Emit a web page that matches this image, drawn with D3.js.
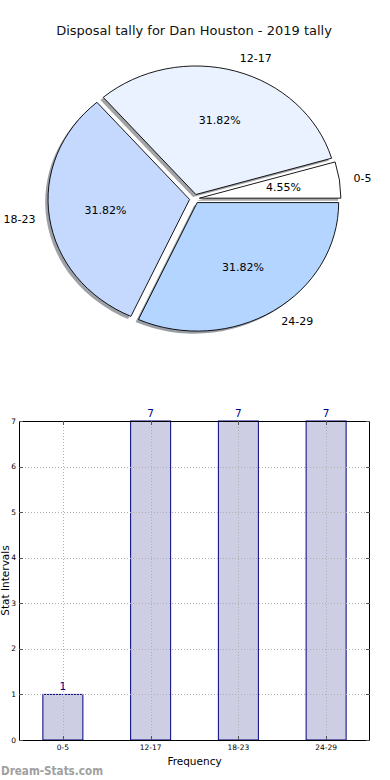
<!DOCTYPE html>
<html>
<head>
<meta charset="utf-8">
<script src="https://cdn.jsdelivr.net/npm/d3@7"></script>
<style>
  html, body { margin: 0; padding: 0; background: #fff; }
  svg { display: block; font-family: "DejaVu Sans", sans-serif; }
</style>
</head>
<body>
<svg id="chart" width="390" height="780"></svg>
<script>
// ---- Data ----
const title = "Disposal tally for Dan Houston - 2019 tally";
const categories = ["0-5", "12-17", "18-23", "24-29"];
const values = [1, 7, 7, 7];
const pieColors = ["#ffffff", "#eaf1ff", "#c5d9ff", "#b4d5ff"];
const yTicks = [0, 1, 2, 3, 4, 5, 6, 7];
const xLabel = "Frequency";
const yLabel = "Stat Intervals";
const watermark = "Dream-Stats.com";

(function () {
const svg = d3.select("#chart");

// ---- Title ----
svg.append("text")
  .attr("x", 194).attr("y", 35)
  .attr("text-anchor", "middle")
  .attr("font-size", 13)
  .attr("fill", "#111")
  .text(title);

// ---- Pie (elliptical, matplotlib-style, counterclockwise from east) ----
const cx = 194.5, cy = 198.8, Rx = 141.5, Ry = 128.5;
const explode = 0.035;
const total = d3.sum(values);

const pie = d3.pie().sort(null).value(d => d)
  .startAngle(Math.PI / 2).endAngle(Math.PI / 2 - 2 * Math.PI);
const arcs = pie(values);
const arc = d3.arc().innerRadius(0).outerRadius(1);

const pieG = svg.append("g").attr("transform", `translate(${cx},${cy})`);

function offset(d, k) {
  const m = (d.startAngle + d.endAngle) / 2;
  return [k * Math.sin(m), -k * Math.cos(m)];
}

// shadows
arcs.forEach((d, i) => {
  const [ox, oy] = offset(d, explode);
  const c = d3.rgb(pieColors[i]);
  pieG.append("path")
    .attr("d", arc(d))
    .attr("transform", `translate(${(ox - 0.02) * Rx},${(oy + 0.02) * Ry}) scale(${Rx},${Ry})`)
    .attr("fill", d3.rgb(c.r * 0.3, c.g * 0.3, c.b * 0.3))
    .attr("fill-opacity", 0.5)
    .attr("stroke", "none");
});
// wedges
arcs.forEach((d, i) => {
  const [ox, oy] = offset(d, explode);
  pieG.append("path")
    .attr("d", arc(d))
    .attr("transform", `translate(${ox * Rx},${oy * Ry}) scale(${Rx},${Ry})`)
    .attr("fill", pieColors[i])
    .attr("stroke", "#000")
    .attr("stroke-width", 0.9)
    .attr("vector-effect", "non-scaling-stroke");
});
// labels
arcs.forEach((d, i) => {
  const [px, py] = offset(d, explode + 0.6);
  pieG.append("text")
    .attr("x", px * Rx).attr("y", py * Ry)
    .attr("text-anchor", "middle")
    .attr("dominant-baseline", "central")
    .attr("font-size", 11)
    .attr("fill", "#000")
    .text((values[i] / total * 100).toFixed(2) + "%");
  const [lx, ly] = offset(d, explode + 1.1);
  pieG.append("text")
    .attr("x", lx * Rx).attr("y", ly * Ry)
    .attr("text-anchor", lx >= 0 ? "start" : "end")
    .attr("dominant-baseline", "central")
    .attr("font-size", 11)
    .attr("fill", "#000")
    .text(categories[i]);
});

// ---- Bar chart ----
const pl = 19, pr = 370, pt = 421, pb = 740;
const x = d3.scalePoint().domain(categories).range([pl, pr]).padding(0.5);
const y = d3.scaleLinear().domain([0, 7]).range([pb, pt]);
const barW = x.step() * 0.456;

const barG = svg.append("g");

// bars
barG.selectAll("rect.bar").data(values).enter().append("rect")
  .attr("class", "bar")
  .attr("x", (d, i) => x(categories[i]) - barW / 2)
  .attr("y", d => y(d))
  .attr("width", barW)
  .attr("height", d => y(0) - y(d))
  .attr("fill", "#cdcde4")
  .attr("stroke", "#000080")
  .attr("stroke-width", 1);

// grid
const gridG = barG.append("g")
  .attr("stroke", "#b0b0b0").attr("stroke-width", 1).attr("stroke-dasharray", "1,2");
yTicks.forEach(t => {
  gridG.append("line").attr("x1", pl).attr("x2", pr)
    .attr("y1", Math.round(y(t)) + 0.5).attr("y2", Math.round(y(t)) + 0.5);
});
categories.forEach(c => {
  gridG.append("line").attr("y1", pt).attr("y2", pb)
    .attr("x1", Math.round(x(c)) + 0.5).attr("x2", Math.round(x(c)) + 0.5);
});

// frame
barG.append("rect")
  .attr("x", pl + 0.5).attr("y", pt + 0.5)
  .attr("width", pr - pl - 1).attr("height", pb - pt)
  .attr("fill", "none").attr("stroke", "#000").attr("stroke-width", 1);

// ticks (inward)
const tickG = barG.append("g").attr("stroke", "#555").attr("stroke-width", 1);
yTicks.forEach(t => {
  const yy = Math.round(y(t)) + 0.5;
  tickG.append("line").attr("x1", pl).attr("x2", pl + 4).attr("y1", yy).attr("y2", yy);
  tickG.append("line").attr("x1", pr - 4).attr("x2", pr).attr("y1", yy).attr("y2", yy);
});
categories.forEach(c => {
  const xx = Math.round(x(c)) + 0.5;
  tickG.append("line").attr("y1", pb - 4).attr("y2", pb).attr("x1", xx).attr("x2", xx);
  tickG.append("line").attr("y1", pt).attr("y2", pt + 4).attr("x1", xx).attr("x2", xx);
});

// tick labels
barG.selectAll("text.ytick").data(yTicks).enter().append("text")
  .attr("class", "ytick")
  .attr("x", pl - 3).attr("y", d => y(d))
  .attr("text-anchor", "end").attr("dominant-baseline", "central")
  .attr("font-size", 7.5).attr("fill", "#000")
  .text(d => d);
barG.selectAll("text.xtick").data(categories).enter().append("text")
  .attr("class", "xtick")
  .attr("x", d => x(d)).attr("y", pb + 10)
  .attr("text-anchor", "middle")
  .attr("font-size", 7.5).attr("fill", "#000")
  .text(d => d);

// value labels
barG.selectAll("text.val").data(values).enter().append("text")
  .attr("class", "val")
  .attr("x", (d, i) => x(categories[i])).attr("y", d => y(d) - 4)
  .attr("text-anchor", "middle")
  .attr("font-size", 10.5).attr("fill", "#00008b")
  .text(d => d);

// axis labels
svg.append("text")
  .attr("x", (pl + pr) / 2).attr("y", 765)
  .attr("text-anchor", "middle").attr("font-size", 10.5).attr("fill", "#000")
  .text(xLabel);
svg.append("text")
  .attr("transform", `translate(9,${(pt + pb) / 2}) rotate(-90)`)
  .attr("text-anchor", "middle").attr("font-size", 10.5).attr("fill", "#000")
  .text(yLabel);

// watermark
svg.append("text")
  .attr("x", 1).attr("y", 775)
  .attr("font-size", 11.5).attr("font-weight", "600").attr("fill", "#a0a0a0")
  .attr("textLength", 102).attr("lengthAdjust", "spacingAndGlyphs")
  .text(watermark);
})();
</script>
</body>
</html>
